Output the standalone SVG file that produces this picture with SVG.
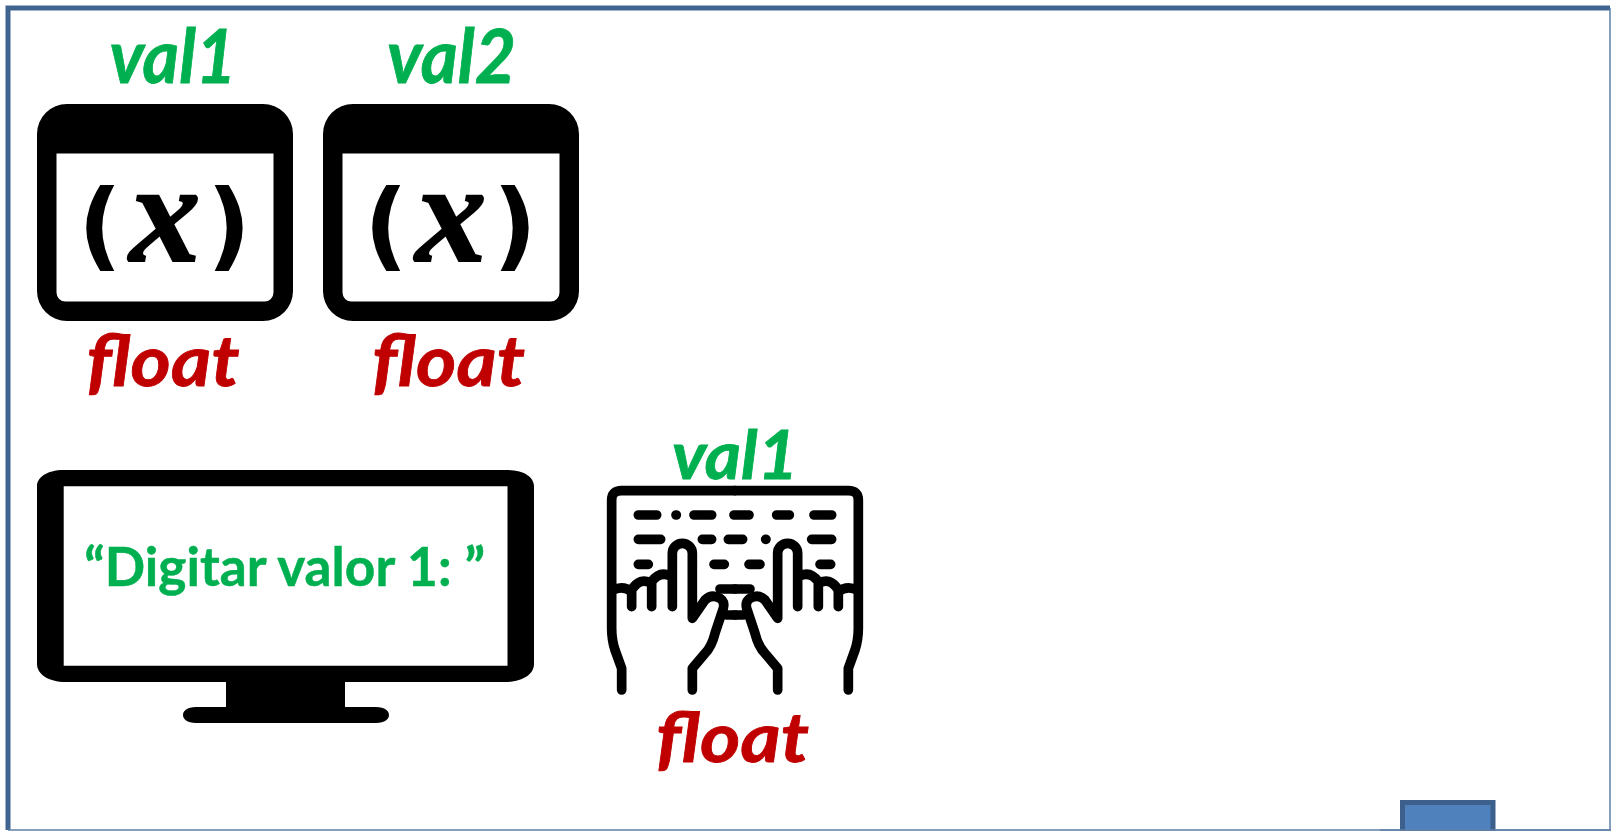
<svg xmlns="http://www.w3.org/2000/svg" width="1611" height="831" viewBox="0 0 1611 831">
<style>
text{font-family:"Lato","Liberation Sans",sans-serif;font-weight:700}
.val{font-style:italic;font-size:74px;stroke-width:.8px}
.flt{font-style:italic;font-size:71px;stroke-width:.8px}
.g{fill:#00b050;stroke:#00b050}
.r{fill:#c00000;stroke:#c00000}
.p{font-family:"DejaVu Sans",sans-serif;font-size:96px}
.x{font-family:"Liberation Serif",serif;font-style:italic;font-size:142px;stroke:#000;stroke-width:2px}
.k{fill:none;stroke:#000;stroke-width:29;stroke-linecap:round;stroke-linejoin:round}
</style>
<defs>
<g id="win">
<path fill-rule="evenodd" d="M67 104H263A30 30 0 0 1 293 134V291A30 30 0 0 1 263 321H67A30 30 0 0 1 37 291V134A30 30 0 0 1 67 104ZM56.500 153.500V292A9 9 0 0 0 66 301.500H264A9 9 0 0 0 273.500 292V153.500Z"/>
<text class="p" x="100" y="258" text-anchor="middle">(</text>
<text class="p" x="229" y="258" text-anchor="middle">)</text>
<text class="x" x="165" y="261" text-anchor="middle">x</text>
</g>
</defs>
<rect width="1611" height="831" fill="#fff"/>
<g id="frame">
<path d="M1610 8H8V830" fill="none" stroke="#41648f" stroke-width="5"/>
<path d="M1610 8V830H8" fill="none" stroke="#5f80a8" stroke-width="1.500"/>
</g>
<g id="connectors"/>
<g id="var-val1">
<use href="#win"/>
<text class="val g" x="173" y="83" text-anchor="middle" textLength="127" lengthAdjust="spacingAndGlyphs">val1</text>
<text class="flt r" x="163" y="386" text-anchor="middle" textLength="153" lengthAdjust="spacingAndGlyphs">float</text>
</g>
<g id="var-val2">
<use href="#win" x="286"/>
<text class="val g" x="451.500" y="83" text-anchor="middle" textLength="129" lengthAdjust="spacingAndGlyphs">val2</text>
<text class="flt r" x="448.500" y="386" text-anchor="middle" textLength="153" lengthAdjust="spacingAndGlyphs">float</text>
</g>
<g id="monitor">
<path fill-rule="evenodd" d="M64 470H507C525 470 534 478 534 486V664C534 674 523 682 505 682H345V707H376C385 707 389 711 389 715C389 719 385 723 376 723H196C187 723 183 719 183 715C183 711 187 707 196 707H226V682H66C48 682 37 674 37 664V486C37 478 46 470 64 470ZM63.700 486.300V665.800H507.500V486.300Z"/>
<text class="g" style="stroke-width:.5px" x="284.700" y="586" font-size="54" text-anchor="middle" textLength="401" lengthAdjust="spacingAndGlyphs">“Digitar valor 1: ”</text>
</g>
<g id="keyboard">
<g transform="translate(590 420) scale(0.33333)">
<g>
<path class="k" d="M95 810V745L75 690Q65 660 65 625V240Q65 212 95 212H435"/>
<path class="k" d="M68 510Q100 495 125 515V560M125 510Q150 470 185 490V560M185 485Q210 450 247 470M247 560V400A30 30 0 0 1 307 400V595L345 540Q365 520 390 535Q405 545 400 565L375 640Q365 680 345 700L307 745V810"/>
<path class="k" d="M145 285H200M258 285H259M312 285H365M145 358H212M337 358H365M415 358H458M145 433H175M372 433H403"/>
<path class="k" d="M390 507H435M410 585H435"/>
</g>
<g>
<path class="k" d="M775 810V745L795 690Q805 660 805 625V240Q805 212 775 212H435"/>
<path class="k" d="M802 510Q770 495 745 515V560M745 510Q720 470 685 490V560M685 485Q660 450 623 470M623 560V400A30 30 0 0 0 563 400V595L525 540Q505 520 480 535Q465 545 470 565L495 640Q505 680 525 700L563 745V810"/>
<path class="k" d="M432 285H477M560 285H598M672 285H725M527 358H528M665 358H725M690 433H722M477 433H510"/>
<path class="k" d="M480 507H435M460 585H435"/>
</g>
</g>
<text class="val g" style="font-size:66px" x="735" y="479" text-anchor="middle" textLength="126" lengthAdjust="spacingAndGlyphs">val1</text>
<text class="flt r" style="font-size:68px" x="732.500" y="762" text-anchor="middle" textLength="153" lengthAdjust="spacingAndGlyphs">float</text>
</g>
<g id="box">
<rect x="1402.500" y="802.500" width="90.500" height="40" fill="#4f81bd" stroke="#3d5f8c" stroke-width="5"/>
</g>
<path d="M1380 830H1611" stroke="#5f80a8" stroke-width="1.500"/>
</svg>
